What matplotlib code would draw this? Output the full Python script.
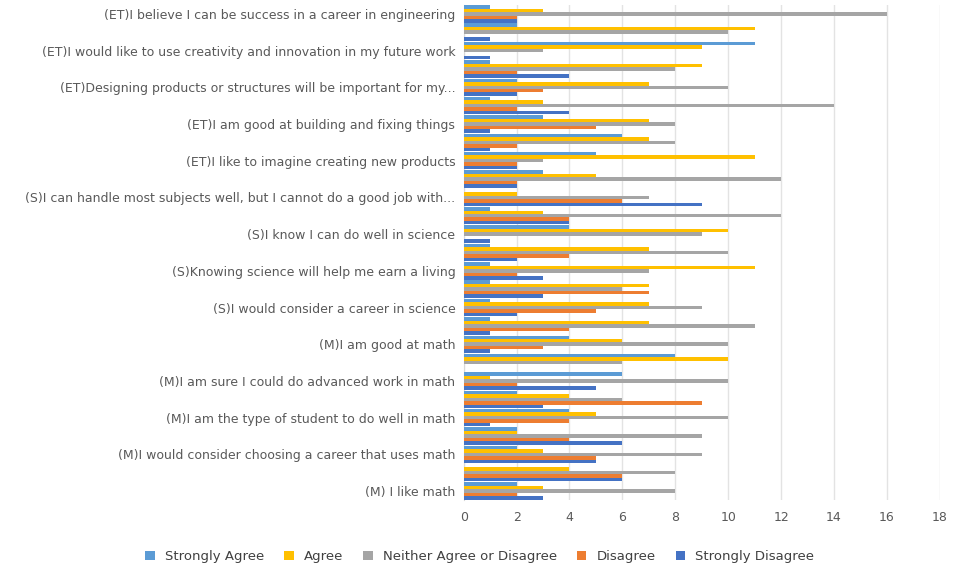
import matplotlib.pyplot as plt
import numpy as np

categories = ["(ET)I believe I can be success in a career in engineering", "",
    "(ET)I would like to use creativity and innovation in my future work", "",
    "(ET)Designing products or structures will be important for my...", "",
    "(ET)I am good at building and fixing things", "",
    "(ET)I like to imagine creating new products", "",
    "(S)I can handle most subjects well, but I cannot do a good job with...", "",
    "(S)I know I can do well in science", "",
    "(S)Knowing science will help me earn a living", "",
    "(S)I would consider a career in science", "",
    "(M)I am good at math", "",
    "(M)I am sure I could do advanced work in math", "",
    "(M)I am the type of student to do well in math", "",
    "(M)I would consider choosing a career that uses math", "",
    "(M) I like math"]
strongly_agree = [1,2,11,1,2,1,3,6,5,3,0,1,4,1,1,1,1,1,4,8,6,2,4,2,2,0,2]
agree =          [3,11,9,9,7,3,7,7,11,5,2,3,10,7,11,7,7,7,6,10,1,4,5,2,3,4,3]
neither =        [16,10,3,8,10,14,8,8,3,12,7,12,9,10,7,6,9,11,10,6,10,6,10,9,9,8,8]
disagree =       [2,0,0,2,3,2,5,2,2,2,6,4,0,4,2,7,5,4,3,0,2,9,4,4,5,6,2]
strongly_dis =   [2,1,1,4,2,4,1,1,2,2,9,4,1,2,3,3,2,1,1,0,5,3,1,6,5,6,3]
series_names = ["Strongly Agree", "Agree", "Neither Agree or Disagree", "Disagree", "Strongly Disagree"]
colors = ["#5B9BD5", "#FFC000", "#A5A5A5", "#ED7D31", "#4472C4"]

fig = plt.figure(figsize=(9.6, 5.81), dpi=100)
ax = fig.add_axes([0.483, 0.139, 0.496, 0.853])
n = len(categories)
y = np.arange(n)
h = 0.19
for i, (vals, name, c) in enumerate(zip([strongly_agree, agree, neither, disagree, strongly_dis], series_names, colors)):
    ax.barh(y + (i - 2) * h, vals, height=h, color=c, label=name, zorder=3)
ax.set_ylim(n - 0.5, -0.5)
ax.set_xlim(0, 18)
ax.set_xticks(range(0, 19, 2))
ax.set_yticks(y)
ax.set_yticklabels(categories, fontsize=9, color="#404040")
ax.tick_params(axis='both', length=0, colors="#595959", labelsize=9)
ax.tick_params(axis='y', pad=6)
ax.tick_params(axis='x', pad=8)
ax.grid(axis='x', color="#E3E3E3", linewidth=1, zorder=0)
for s in ax.spines.values():
    s.set_visible(False)
ax.spines['left'].set_visible(True)
ax.spines['left'].set_color("#D9D9D9")
fig.legend(loc='lower center', bbox_to_anchor=(0.5, 0.01), ncol=5, frameon=False,
           fontsize=9.5, handlelength=0.7, handleheight=0.7, columnspacing=1.5,
           labelcolor="#404040")
fig.savefig("out.png", dpi=100)
